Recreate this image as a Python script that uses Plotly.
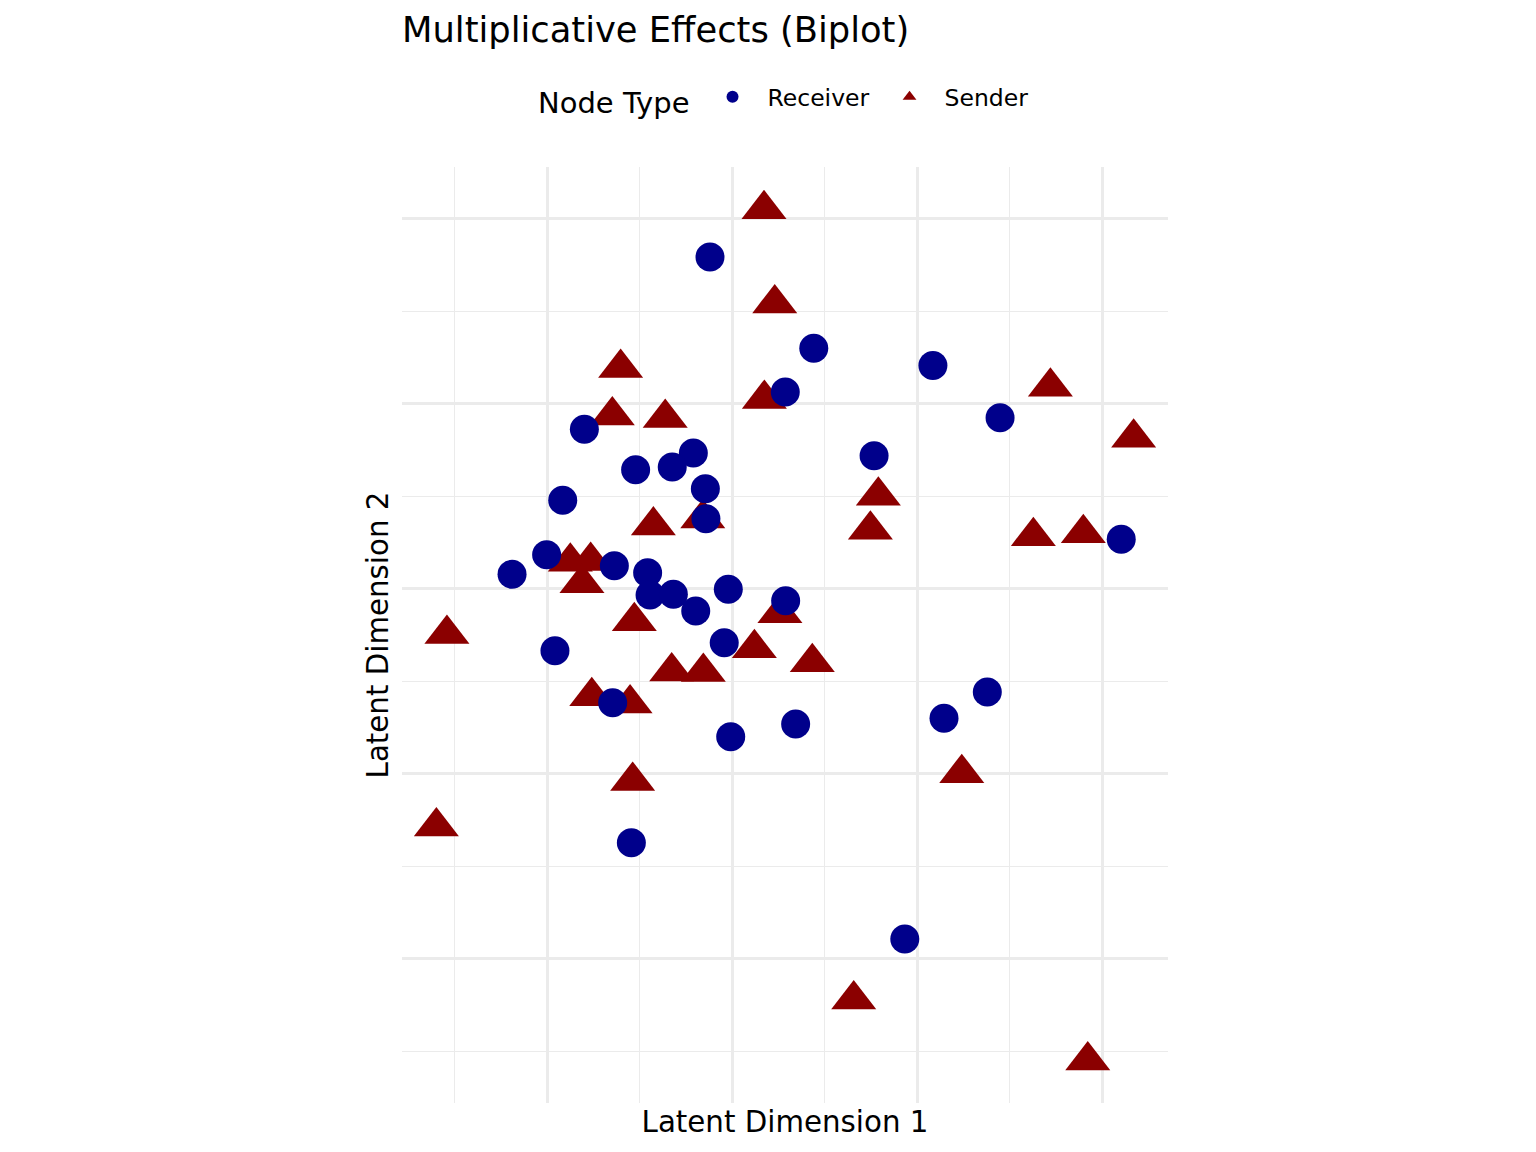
import plotly.graph_objects as go

# Receiver (circles)
receiver_x = [-0.119, 0.442, 1.086, 0.288, 1.449, -0.798, -0.209, 0.768, -0.521, -0.323,
              -0.144, -0.915, -0.141, 2.104, -1.002, -0.636, -0.456, -1.189, -0.020, -0.443,
              -0.317, 0.290, -0.196, -0.042, -0.957, 1.380, -0.645, 1.146, 0.344, -0.007,
              -0.544, 0.934]
receiver_y = [1.792, 1.298, 1.206, 1.062, 0.923, 0.861, 0.732, 0.718, 0.642, 0.657,
              0.539, 0.477, 0.377, 0.266, 0.183, 0.123, 0.085, 0.077, -0.004, -0.035,
              -0.031, -0.066, -0.122, -0.293, -0.336, -0.559, -0.617, -0.702, -0.732, -0.801,
              -1.374, -1.895]

# Sender (triangles)
sender_x = [0.173, 0.231, -0.602, 1.721, 0.175, -0.647, -0.361, 2.171, 0.791, -0.425,
            -0.158, 0.748, 1.899, 1.629, -0.874, -0.764, -0.811, 0.259, -0.528, -1.541,
            0.121, 0.434, -0.326, -0.155, -0.758, -0.551, 1.242, -0.537, -1.598, 0.658,
            1.923]
sender_y = [2.050, 1.541, 1.192, 1.090, 1.025, 0.935, 0.922, 0.815, 0.502, 0.340,
            0.379, 0.317, 0.299, 0.283, 0.145, 0.149, 0.028, -0.134, -0.177, -0.246,
            -0.323, -0.398, -0.448, -0.452, -0.582, -0.621, -0.998, -1.040, -1.287, -2.222,
            -2.552]

FONT = "DejaVu Sans"
GRID = "#EBEBEB"

fig = go.Figure()
fig.add_trace(go.Scatter(
    x=sender_x, y=sender_y, mode="markers", name="Sender", legendrank=2,
    marker=dict(symbol="triangle-up", size=39, color="#8B0000", line=dict(width=0)),
))
fig.add_trace(go.Scatter(
    x=receiver_x, y=receiver_y, mode="markers", name="Receiver", legendrank=1,
    marker=dict(symbol="circle", size=29, color="#00008B", line=dict(width=0)),
))

# page has an 8px body margin; work in figure pixel coordinates
OFF = 8
W, H = 1536 - OFF, 1152 - OFF
L, R, T, B = 402 - OFF, 1168 - OFF, 167 - OFF, 1103 - OFF
X0, Y0 = 732 - OFF, 588.5 - OFF   # pixel of data origin
U = 185                            # pixels per data unit

fig.update_layout(
    width=W, height=H,
    margin=dict(l=L, r=W - R, t=T, b=H - B, autoexpand=False),
    paper_bgcolor="white", plot_bgcolor="white",
    font=dict(family=FONT, color="black"),
    title=dict(text="Multiplicative Effects (Biplot)", font=dict(size=35.3, family=FONT),
               x=L / W, xref="container", xanchor="left",
               y=1 - (30 - OFF) / H, yref="container", yanchor="middle"),
    showlegend=True,
    legend=dict(
        orientation="h", x=0.5 + 9 / (R - L), xanchor="center",
        y=(B - (99 - OFF)) / (B - T), yanchor="middle",
        itemsizing="constant", itemwidth=60,
        entrywidth=102, entrywidthmode="pixels",
        title=dict(text="Node Type", side="left", font=dict(size=29, family=FONT)),
        font=dict(size=23.5, family=FONT),
        bgcolor="rgba(0,0,0,0)",
    ),
    xaxis=dict(
        range=[(L - X0) / U, (R - X0) / U],
        showticklabels=False, ticks="", zeroline=False, showline=False,
        tick0=0, dtick=1, showgrid=True, gridcolor=GRID, gridwidth=2.5,
        minor=dict(showgrid=True, dtick=0.5, tick0=0, gridcolor=GRID, gridwidth=1.3),
        title=dict(text="Latent Dimension 1", font=dict(size=29.3, family=FONT), standoff=8),
    ),
    yaxis=dict(
        range=[(Y0 - B) / U, (Y0 - T) / U],
        showticklabels=False, ticks="", zeroline=False, showline=False,
        tick0=0, dtick=1, showgrid=True, gridcolor=GRID, gridwidth=2.5,
        minor=dict(showgrid=True, dtick=0.5, tick0=0, gridcolor=GRID, gridwidth=1.3),
        title=dict(text="Latent Dimension 2", font=dict(size=29.3, family=FONT), standoff=3),
    ),
)

fig.write_html("out.html")
